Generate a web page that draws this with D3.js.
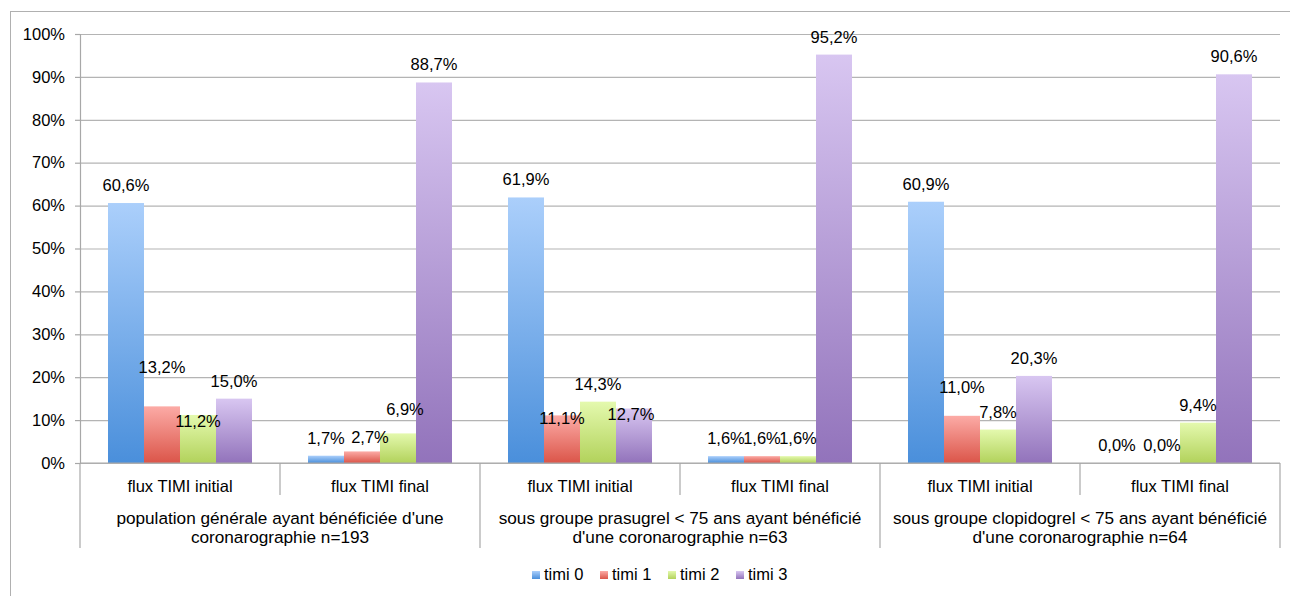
<!DOCTYPE html>
<html>
<head>
<meta charset="utf-8">
<script src="https://cdn.jsdelivr.net/npm/d3@7"></script>
<style>
  html, body { margin: 0; padding: 0; background: #fff; }
  svg { display: block; }
  text { font-family: "Liberation Sans", Arial, Helvetica, sans-serif; font-size: 16.5px; fill: #000; }
  text.group-label { font-size: 17.2px; }
</style>
</head>
<body>
<svg id="chart" width="1290" height="596"></svg>
<script>
// ---- data ----
const groups = [
  ["population générale ayant bénéficiée d'une", "coronarographie n=193"],
  ["sous groupe prasugrel < 75 ans ayant bénéficié", "d'une coronarographie n=63"],
  ["sous groupe clopidogrel < 75 ans ayant bénéficié", "d'une coronarographie n=64"]
];
const subCategories = ["flux TIMI initial", "flux TIMI final"];
const seriesNames = ["timi 0", "timi 1", "timi 2", "timi 3"];
const timi0 = [60.6, 1.7, 61.9, 1.6, 60.9, 0.0];
const timi1 = [13.2, 2.7, 11.1, 1.6, 11.0, 0.0];
const timi2 = [11.2, 6.9, 14.3, 1.6, 7.8, 9.4];
const timi3 = [15.0, 88.7, 12.7, 95.2, 20.3, 90.6];
const yTicks = [0, 10, 20, 30, 40, 50, 60, 70, 80, 90, 100];

// ---- layout / style ----
const plot = { left: 80, right: 1280, top: 34, bottom: 463 };
const gradients = [
  { top: "#abcffb", bottom: "#4a8fdb" },
  { top: "#fcaba6", bottom: "#db5549" },
  { top: "#e4f9ae", bottom: "#b2d25b" },
  { top: "#d8c6f1", bottom: "#9273bb" }
];
// label nudges where the value labels would collide
const labelNudge = {
  "1|0": [0, -21], "2|0": [0, 24],
  "1|1": [8, 4],   "2|1": [7, -6],
  "1|2": [0, 21],  "3|2": [-3, 23],
  "1|4": [0, -11],
  "0|5": [-9, 0]
};

const seriesValues = [timi0, timi1, timi2, timi3];
const catKeys = d3.range(groups.length * subCategories.length);
const fr = d3.formatLocale({ decimal: ",", thousands: " ", grouping: [3], currency: ["", "€"] });
const fmt = v => fr.format(".1f")(v) + "%";

const svg = d3.select("#chart");

// gradients, one per series, spread over each bar's own height
const defs = svg.append("defs");
gradients.forEach((g, i) => {
  const lg = defs.append("linearGradient").attr("id", "grad" + i)
    .attr("x1", 0).attr("y1", 0).attr("x2", 0).attr("y2", 1);
  lg.append("stop").attr("offset", "0%").attr("stop-color", g.top);
  lg.append("stop").attr("offset", "100%").attr("stop-color", g.bottom);
});

// outer frame
svg.append("rect")
  .attr("x", 10.5).attr("y", 11.5).attr("width", 1300).attr("height", 620)
  .attr("fill", "none").attr("stroke", "#b0b0b0").attr("stroke-width", 1);

const x0 = d3.scaleBand().domain(catKeys).range([plot.left, plot.right]).paddingInner(0).paddingOuter(0);
const x1 = d3.scaleBand().domain(d3.range(seriesNames.length)).range([0, x0.bandwidth()])
  .paddingInner(0).paddingOuter(28 / 36);
const y = d3.scaleLinear().domain([0, 100]).range([plot.bottom, plot.top]);

// gridlines
svg.append("g")
  .attr("transform", `translate(${plot.left},0)`)
  .call(d3.axisLeft(y).tickValues(yTicks).tickSize(-(plot.right - plot.left)).tickFormat(""))
  .call(g => g.select(".domain").remove())
  .call(g => g.selectAll("line").attr("stroke", "#b4b4b4").attr("stroke-width", 1.2));

// y axis with small outer ticks
svg.append("g")
  .attr("transform", `translate(${plot.left},0)`)
  .call(d3.axisLeft(y).tickValues(yTicks).tickSize(5).tickPadding(10).tickFormat(d => d + "%"))
  .call(g => g.select(".domain").attr("stroke", "#a8a8a8").attr("stroke-width", 1.2))
  .call(g => g.selectAll("line").attr("stroke", "#a8a8a8").attr("stroke-width", 1.2))
  .call(g => g.selectAll("text").attr("font-size", 16.5).attr("fill", "#000")
    .style("font-family", '"Liberation Sans", Arial, sans-serif'));

// bars
const barData = [];
seriesValues.forEach((vals, s) => vals.forEach((v, c) => barData.push({ s, c, v })));

svg.append("g").selectAll("rect").data(barData).join("rect")
  .attr("x", d => x0(d.c) + x1(d.s))
  .attr("y", d => y(d.v))
  .attr("width", x1.bandwidth())
  .attr("height", d => y(0) - y(d.v))
  .attr("fill", d => `url(#grad${d.s})`);

// value labels
svg.append("g").selectAll("text").data(barData).join("text")
  .attr("x", d => x0(d.c) + x1(d.s) + x1.bandwidth() / 2 + (labelNudge[d.s + "|" + d.c] || [0, 0])[0])
  .attr("y", d => y(d.v) - 12 + (labelNudge[d.s + "|" + d.c] || [0, 0])[1])
  .attr("text-anchor", "middle")
  .text(d => fmt(d.v));

// category axis: baseline, separators and labels
const axisG = svg.append("g").attr("stroke", "#a8a8a8").attr("stroke-width", 1.2);
axisG.append("line")
  .attr("x1", plot.left).attr("x2", plot.right)
  .attr("y1", plot.bottom).attr("y2", plot.bottom);
const rowBottom = 495, groupBottom = 548;
const boundaries = catKeys.map(k => x0(k)).concat([plot.right]);
boundaries.forEach((bx, i) => {
  const isGroupEdge = i % subCategories.length === 0;
  axisG.append("line")
    .attr("x1", bx).attr("x2", bx)
    .attr("y1", plot.bottom).attr("y2", isGroupEdge ? groupBottom : rowBottom);
});

svg.append("g").selectAll("text").data(catKeys).join("text")
  .attr("x", k => x0(k) + x0.bandwidth() / 2)
  .attr("y", 492)
  .attr("text-anchor", "middle")
  .text(k => subCategories[k % subCategories.length]);

const groupWidth = x0.bandwidth() * subCategories.length;
groups.forEach((lines, gi) => {
  const cx = plot.left + gi * groupWidth + groupWidth / 2;
  const t = svg.append("text").attr("class", "group-label").attr("text-anchor", "middle");
  lines.forEach((ln, li) => {
    t.append("tspan").attr("x", cx).attr("y", 524 + li * 19).text(ln);
  });
});

// legend
const legend = svg.append("g").attr("transform", "translate(532,0)");
const step = 68;
seriesNames.forEach((name, i) => {
  const item = legend.append("g").attr("transform", `translate(${i * step},0)`);
  item.append("rect").attr("x", 0).attr("y", 571).attr("width", 8).attr("height", 8)
    .attr("fill", `url(#grad${i})`);
  item.append("text").attr("x", 12).attr("y", 580).text(name);
});
</script>
</body>
</html>
